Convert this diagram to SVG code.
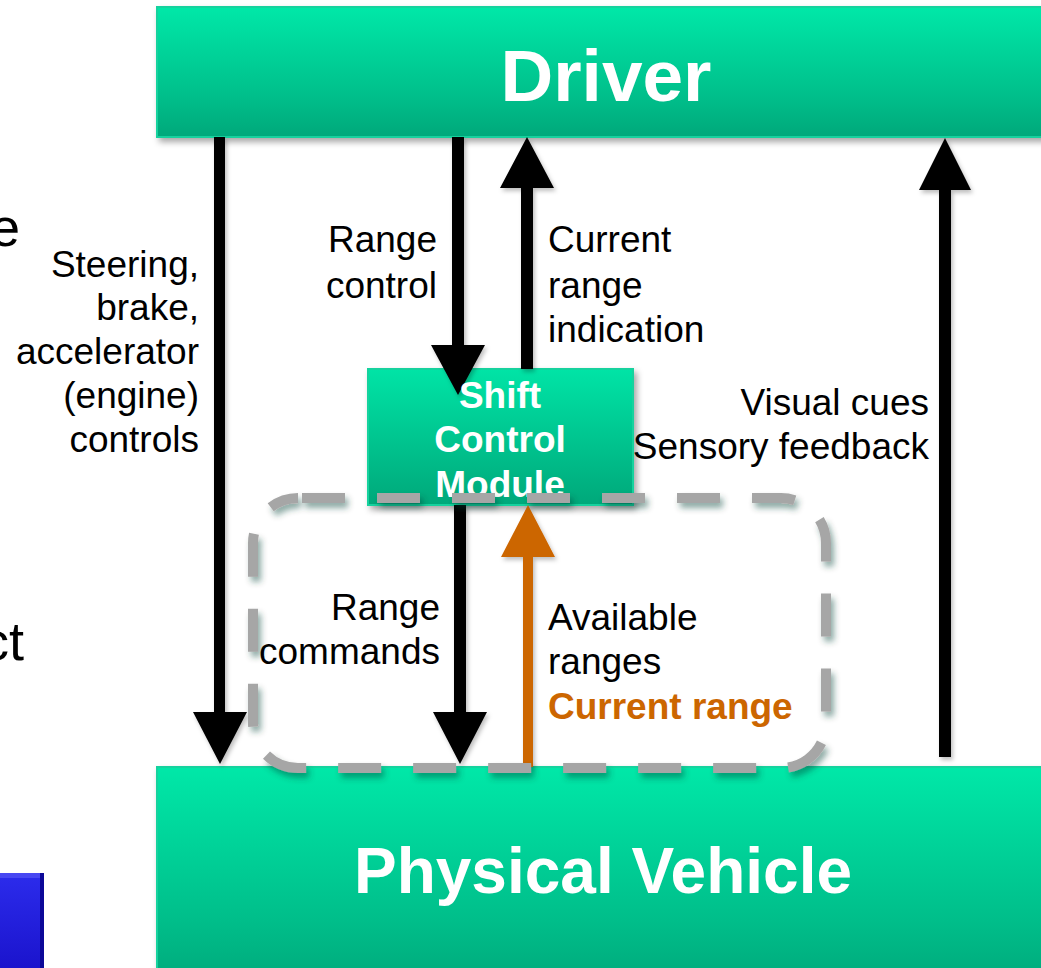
<svg xmlns="http://www.w3.org/2000/svg" width="1041" height="968" viewBox="0 0 1041 968">
  <style>
    .lbl { font-family: "Liberation Sans", Arial, sans-serif; font-size: 37px; fill: #000; }
    .end { text-anchor: end; }
    .hot { font-weight: bold; fill: #CC6600; }
    .title { font-family: "Liberation Sans", Arial, sans-serif; font-weight: bold; fill: #fff; text-anchor: middle; }
    .box { fill: url(#greenFill); stroke: #14D29E; stroke-width: 2; filter: url(#boxShadow); }
    .arrow { fill: #000; filter: url(#arrowShadow); }
    .frag { font-family: "Liberation Sans", Arial, sans-serif; font-size: 54px; fill: #000; text-anchor: end; }
  </style>
  <defs>
    <linearGradient id="greenFill" x1="0" y1="0" x2="0" y2="1">
      <stop offset="0" stop-color="#00E8A8"/>
      <stop offset="0.7" stop-color="#00BE8A"/>
      <stop offset="1" stop-color="#00A87A"/>
    </linearGradient>
    <linearGradient id="smcFill" x1="0" y1="0" x2="0" y2="1">
      <stop offset="0" stop-color="#00E4A6"/>
      <stop offset="1" stop-color="#00A87A"/>
    </linearGradient>
    <linearGradient id="blueFill" x1="0" y1="0" x2="0" y2="1">
      <stop offset="0" stop-color="#2C2CEC"/>
      <stop offset="1" stop-color="#1810C8"/>
    </linearGradient>
    <filter id="boxShadow" x="-5%" y="-10%" width="115%" height="130%">
      <feDropShadow dx="3" dy="4" stdDeviation="3" flood-color="#000" flood-opacity="0.35"/>
    </filter>
    <filter id="arrowShadow" x="-50%" y="-10%" width="200%" height="120%">
      <feDropShadow dx="2" dy="3" stdDeviation="2" flood-color="#000" flood-opacity="0.25"/>
    </filter>
    <filter id="dashShadow" x="-10%" y="-10%" width="120%" height="125%">
      <feDropShadow dx="3" dy="5" stdDeviation="3" flood-color="#004030" flood-opacity="0.45"/>
    </filter>
  </defs>

  <rect x="0" y="0" width="1041" height="968" fill="#fff"/>

  <!-- partial text at the left edge -->
  <text class="frag" x="20" y="246">e</text>
  <text class="frag" x="24" y="660">ct</text>

  <!-- partial blue button at the lower left -->
  <g id="blue-button">
    <rect x="-10" y="873" width="54" height="110" fill="url(#blueFill)"/>
    <rect x="-10" y="873" width="54" height="5" fill="#5050F4" opacity="0.8"/>
    <rect x="40" y="873" width="4" height="110" fill="#0C0898"/>
  </g>

  <g id="driver">
    <rect class="box" x="157" y="7" width="900" height="130"/>
    <text class="title" x="606" y="101" font-size="73">Driver</text>
  </g>

  <g id="physical-vehicle">
    <rect class="box" x="157" y="767" width="900" height="220"/>
    <text class="title" x="603" y="893" font-size="64">Physical Vehicle</text>
  </g>

  <g id="shift-control-module">
    <rect x="368" y="369" width="265" height="136" fill="url(#smcFill)" stroke="#14D29E" stroke-width="2" filter="url(#boxShadow)"/>
  </g>

  <!-- connectors -->
  <g id="connectors">
    <!-- driver controls to vehicle -->
    <polygon class="arrow" points="214,137 225,137 225,712 247,712 220,764 193,712 214,712"/>
    <!-- range control into the module -->
    <polygon class="arrow" points="452,137 464,137 464,345 485,345 458,395 431,345 452,345"/>
    <!-- current range indication up to the driver -->
    <polygon class="arrow" points="521,369 533,369 533,188 554,188 527,137 500,188 521,188"/>
    <!-- visual cues / sensory feedback -->
    <polygon class="arrow" points="939,757 951,757 951,190 971,190 945,138 919,190 939,190"/>
    <!-- range commands to the vehicle -->
    <polygon class="arrow" points="454,505 466,505 466,712 487,712 460,764 433,712 454,712"/>
    <!-- current range back to the module -->
    <polygon points="523,767 533,767 533,557 555,557 528,505 501,557 523,557" fill="#CC6600" filter="url(#arrowShadow)"/>
  </g>

  <!-- module label -->
  <g id="shift-control-module-label">
    <text class="title" x="500" y="408" font-size="37">Shift</text>
    <text class="title" x="500" y="452" font-size="37">Control</text>
    <text class="title" x="500" y="497" font-size="37">Module</text>
  </g>

  <!-- dashed boundary around the range path -->
  <g id="range-boundary">
    <rect x="253" y="498" width="573" height="270" rx="45" ry="45" fill="none" stroke="#A6A6A6" stroke-width="10" stroke-dasharray="43 32" stroke-dashoffset="-4" filter="url(#dashShadow)"/>
  </g>

  <!-- labels -->
  <g id="labels">
    <text class="lbl end" x="199" y="277">Steering,</text>
    <text class="lbl end" x="199" y="320">brake,</text>
    <text class="lbl end" x="199" y="364">accelerator</text>
    <text class="lbl end" x="199" y="408">(engine)</text>
    <text class="lbl end" x="199" y="452">controls</text>

    <text class="lbl end" x="437" y="252">Range</text>
    <text class="lbl end" x="437" y="298">control</text>

    <text class="lbl" x="548" y="252">Current</text>
    <text class="lbl" x="548" y="298">range</text>
    <text class="lbl" x="548" y="342">indication</text>

    <text class="lbl end" x="929" y="415">Visual cues</text>
    <text class="lbl end" x="929" y="459">Sensory feedback</text>

    <text class="lbl end" x="440" y="620">Range</text>
    <text class="lbl end" x="440" y="664">commands</text>

    <text class="lbl" x="548" y="630">Available</text>
    <text class="lbl" x="548" y="674">ranges</text>
    <text class="lbl hot" x="548" y="719">Current range</text>
  </g>
</svg>
